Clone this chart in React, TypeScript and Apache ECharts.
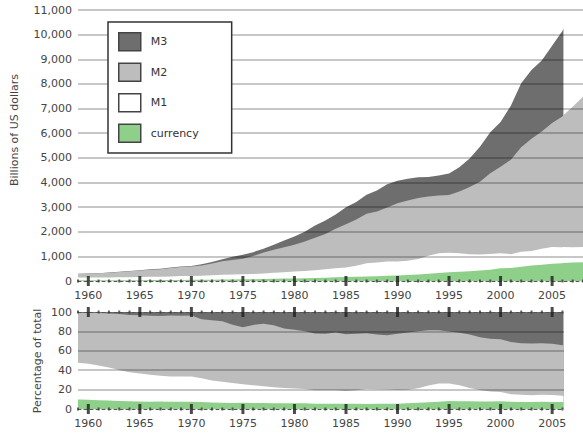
import React, { useEffect, useRef } from "react";
import * as echarts from "echarts";

// ---- data (billions of US dollars, start of each year) ----
const years = [
  1959, 1960, 1961, 1962, 1963, 1964, 1965, 1966, 1967, 1968, 1969, 1970,
  1971, 1972, 1973, 1974, 1975, 1976, 1977, 1978, 1979, 1980, 1981, 1982,
  1983, 1984, 1985, 1986, 1987, 1988, 1989, 1990, 1991, 1992, 1993, 1994,
  1995, 1996, 1997, 1998, 1999, 2000, 2001, 2002, 2003, 2004, 2005, 2006,
  2006.1,
];
const m3 = [
  290, 300, 315, 341, 371, 406, 440, 478, 500, 545, 590, 610,
  677, 776, 886, 985, 1070, 1172, 1311, 1472, 1647, 1804, 1996, 2254,
  2460, 2697, 2992, 3208, 3497, 3677, 3925, 4070, 4154, 4210, 4220, 4280,
  4360, 4620, 4970, 5450, 6040, 6450, 7117, 8030, 8560, 8950, 9550, 10150,
  10250,
];
const m2 = [
  287, 298, 312, 336, 363, 393, 425, 459, 480, 525, 567, 588,
  626, 710, 802, 856, 902, 1016, 1152, 1270, 1366, 1474, 1600, 1756,
  1906, 2124, 2307, 2492, 2728, 2826, 2988, 3153, 3272, 3372, 3425, 3475,
  3486, 3630, 3819, 4033, 4375, 4638, 4925, 5434, 5772, 6067, 6418, 6682,
  6730,
];
const m1 = [
  138, 140, 141, 146, 149, 154, 161, 169, 172, 183, 198, 204,
  214, 229, 250, 263, 274, 287, 306, 331, 358, 383, 409, 436,
  474, 521, 552, 620, 725, 750, 787, 795, 825, 897, 1025, 1129,
  1150, 1127, 1081, 1073, 1097, 1123, 1088, 1183, 1220, 1306, 1376, 1375,
  1378,
];
const currency = [
  28.6, 28.8, 28.7, 29.6, 30.6, 32.5, 34.2, 36.3, 38.3, 40.4, 43.4, 46.1,
  49.1, 52.6, 56.9, 61.6, 67.9, 73.8, 80.8, 88.7, 97.6, 106.1, 116.2, 123.9,
  134.1, 148.3, 158.5, 170.6, 183.4, 197.0, 212.0, 222.6, 246.6, 267.1, 292.3, 321.6,
  354.5, 372.8, 394.7, 425.3, 460.4, 517.7, 531.1, 581.5, 626.2, 662.4, 697.7, 724.2,
  727,
];
// M3 publication stopped in 2006; the other aggregates continue
const extYears = [2007, 2008];
const m2Ext = [7072, 7480];
const m1Ext = [1367, 1385];
const currencyExt = [749, 762];

const legendNames = ["M3", "M2", "M1", "currency"];
const billionGrid = [1000, 2000, 3000, 4000, 5000, 6000, 7000, 8000, 9000, 10000, 11000];
const percentGrid = [20, 40, 60, 80];
const majorYears = [1960, 1965, 1970, 1975, 1980, 1985, 1990, 1995, 2000, 2005];

// ---- styling ----
const FONT = "DejaVu Sans";
const LABEL = "#454545";
const COLORS: Record<string, string> = {
  M3: "#6e6e6e",
  M2: "#bdbdbd",
  M1: "#ffffff",
  currency: "#8ed08a",
};

const pair = (xs: number[], ys: number[]) => xs.map((x, i) => [x, ys[i]]);
const pct = (vals: number[]) => vals.map((v, i) => (v / m3[i]) * 100);

export default function App() {
  const ref = useRef<HTMLDivElement>(null);

  useEffect(() => {
    if (!ref.current) return;
    const chart = echarts.init(ref.current, undefined, { renderer: "svg" });

    const allYears = [...years.filter((y) => Number.isInteger(y)), ...extYears];
    const minorTop = allYears.filter((y) => y % 5 !== 0);
    const minorBottom = years.filter((y) => Number.isInteger(y) && y % 5 !== 0);

    const gridLine = (vals: number[]) => ({
      silent: true,
      symbol: ["none", "none"],
      label: { show: false },
      lineStyle: { color: "rgba(0,0,0,0.22)", width: 2, type: "solid" },
      emphasis: { disabled: true },
      data: vals.map((v) => ({ yAxis: v })),
    });

    const area = (name: string, data: number[][], idx: number, extra: any = {}) => ({
      type: "line",
      name,
      xAxisIndex: idx === 0 ? 0 : 1,
      yAxisIndex: idx,
      data,
      showSymbol: false,
      symbol: "none",
      lineStyle: { width: 0 },
      itemStyle: { color: COLORS[name] },
      areaStyle: { color: COLORS[name], opacity: 1 },
      emphasis: { disabled: true },
      silent: true,
      z: 2,
      ...extra,
    });

    const tickSeries = (data: number[][], xi: number, yi: number, major: boolean) => ({
      type: "scatter",
      xAxisIndex: xi,
      yAxisIndex: yi,
      data,
      symbol: "rect",
      symbolSize: major ? [3, 10] : [2, 3],
      itemStyle: { color: major ? "#1e1e1e" : "#3a3a3a" },
      silent: true,
      clip: false,
      z: 12,
    });

    const axisLabel = (margin: number) => ({
      customValues: majorYears,
      formatter: (v: number) => String(v),
      margin,
      color: LABEL,
      fontSize: 11,
      fontFamily: FONT,
    });
    const dashedLine = {
      show: true,
      lineStyle: { color: "#555", width: 1, type: [3, 3] },
    };

    const option: any = {
      animation: false,
      textStyle: { fontFamily: FONT },
      grid: [
        { left: 78, right: 0, top: 10, height: 271 },
        { left: 78, width: 486, top: 312, height: 97 },
      ],
      xAxis: [
        {
          type: "value", gridIndex: 0, min: 1959, max: 2008, z: 10,
          axisLine: dashedLine, axisTick: { show: false }, splitLine: { show: false },
          axisLabel: axisLabel(9),
        },
        {
          type: "value", gridIndex: 1, min: 1959, max: 2006.15, z: 10,
          axisLine: dashedLine, axisTick: { show: false }, splitLine: { show: false },
          axisLabel: axisLabel(9),
        },
        {
          type: "value", gridIndex: 1, min: 1959, max: 2006.15, z: 10, position: "top",
          axisLine: dashedLine, axisTick: { show: false }, splitLine: { show: false },
          axisLabel: { show: false },
        },
      ],
      yAxis: [
        {
          type: "value", gridIndex: 0, min: 0, max: 11000, interval: 1000,
          axisLine: { show: false }, axisTick: { show: false }, splitLine: { show: false },
          axisLabel: {
            margin: 6, color: LABEL, fontSize: 11, fontFamily: FONT,
            formatter: (v: number) => v.toLocaleString("en-US"),
          },
        },
        {
          type: "value", gridIndex: 1, min: 0, max: 100, interval: 20,
          axisLine: { show: false }, axisTick: { show: false }, splitLine: { show: false },
          axisLabel: { margin: 6, color: LABEL, fontSize: 11, fontFamily: FONT },
        },
      ],
      legend: {
        show: true,
        orient: "vertical",
        left: 108,
        top: 22,
        z: 20,
        data: legendNames,
        icon: "rect",
        itemWidth: 22,
        itemHeight: 18,
        itemGap: 11,
        padding: [10, 33, 10, 10],
        borderColor: "#333",
        borderWidth: 1.5,
        backgroundColor: "#ffffff",
        selectedMode: false,
        itemStyle: { borderColor: "#444", borderWidth: 1.5 },
        textStyle: { fontSize: 11, color: "#333", fontFamily: FONT, padding: [0, 0, 0, 5] },
      },
      graphic: [
        {
          type: "text", x: 14, y: 130, rotation: Math.PI / 2, silent: true,
          style: {
            text: "Billions of US dollars", fontSize: 11, fontFamily: FONT, fill: LABEL,
            textAlign: "center", textVerticalAlign: "middle",
          },
        },
        {
          type: "text", x: 37, y: 361, rotation: Math.PI / 2, silent: true,
          style: {
            text: "Percentage of total", fontSize: 11, fontFamily: FONT, fill: LABEL,
            textAlign: "center", textVerticalAlign: "middle",
          },
        },
      ],
      series: [
        // top panel: amounts
        area("M3", pair(years, m3), 0),
        area("M2", pair([...years, ...extYears], [...m2, ...m2Ext]), 0),
        area("M1", pair([...years, ...extYears], [...m1, ...m1Ext]), 0),
        area("currency", pair([...years, ...extYears], [...currency, ...currencyExt]), 0, {
          markLine: gridLine(billionGrid),
        }),
        // bottom panel: share of M3
        area("M3", pair(years, pct(m3)), 1),
        area("M2", pair(years, pct(m2)), 1),
        area("M1", pair(years, pct(m1)), 1),
        area("currency", pair(years, pct(currency)), 1, {
          markLine: gridLine(percentGrid),
        }),
        // axis tick marks
        tickSeries(majorYears.map((y) => [y, 0]), 0, 0, true),
        tickSeries(minorTop.map((y) => [y, 0]), 0, 0, false),
        tickSeries(majorYears.map((y) => [y, 0]), 1, 1, true),
        tickSeries(minorBottom.map((y) => [y, 0]), 1, 1, false),
        tickSeries(majorYears.map((y) => [y, 100]), 1, 1, true),
        tickSeries(minorBottom.map((y) => [y, 100]), 1, 1, false),
      ],
    };

    chart.setOption(option);
    return () => chart.dispose();
  }, []);

  return (
    <div
      ref={ref}
      style={{ position: "absolute", left: 0, top: 0, width: 583, height: 436, background: "#fff" }}
    />
  );
}
